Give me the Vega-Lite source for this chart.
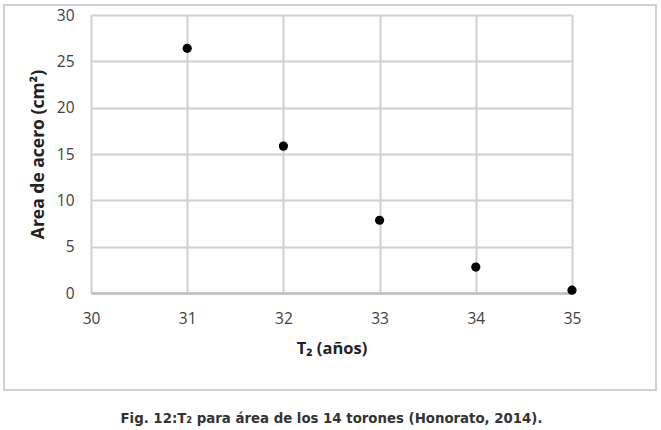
{
  "$schema": "https://vega.github.io/schema/vega-lite/v6.json",
  "width": 481,
  "height": 278,
  "autosize": {"type": "none"},
  "padding": {"left": 91, "top": 15, "right": 89, "bottom": 137},
  "background": "white",
  "config": {"view": {"stroke": null}, "font": "Open Sans"},
  "title": {
    "text": "Fig. 12:T₂ para área de los 14 torones (Honorato, 2014).",
    "orient": "bottom",
    "anchor": "middle",
    "font": "DejaVu Sans Condensed",
    "fontSize": 14.8,
    "fontWeight": "bold",
    "color": "#333333",
    "offset": 20
  },
  "layer": [
    {
      "data": {"values": [{}]},
      "mark": {"type": "rect", "fill": null, "stroke": "#d0d0d0", "strokeWidth": 2, "clip": false},
      "encoding": {
        "x": {"datum": 29.096, "type": "quantitative"},
        "x2": {"datum": 35.873},
        "y": {"datum": 31.08, "type": "quantitative"},
        "y2": {"datum": -10.47}
      }
    },
    {
      "data": {
        "values": [
          {"T2": 31, "area": 26.4},
          {"T2": 32, "area": 15.85},
          {"T2": 33, "area": 7.85},
          {"T2": 34, "area": 2.8},
          {"T2": 35, "area": 0.3}
        ]
      },
      "mark": {"type": "circle", "size": 85, "color": "black", "opacity": 1},
      "encoding": {
        "x": {
          "field": "T2",
          "type": "quantitative",
          "scale": {"domain": [30, 35], "nice": false, "zero": false},
          "axis": {
            "values": [30, 31, 32, 33, 34, 35],
            "format": "d",
            "grid": true,
            "gridColor": "#d0d0d0",
            "gridWidth": 2,
            "domain": true,
            "domainColor": "#bfbfbf",
            "domainWidth": 2.5,
            "ticks": false,
            "labelBound": false,
            "labelFlush": false,
            "labelOverlap": false,
            "labelPadding": 18,
            "labelFontSize": 15.5,
            "labelColor": "#404040",
            "title": "T₂ (años)",
            "titleFontSize": 16.5,
            "titleFontWeight": "bold",
            "titleColor": "#222222",
            "titlePadding": 14
          }
        },
        "y": {
          "field": "area",
          "type": "quantitative",
          "scale": {"domain": [0, 30], "nice": false},
          "axis": {
            "values": [0, 5, 10, 15, 20, 25, 30],
            "grid": true,
            "gridColor": "#d0d0d0",
            "gridWidth": 2,
            "domain": false,
            "ticks": false,
            "labelBound": false,
            "labelFlush": false,
            "labelOverlap": false,
            "labelPadding": 17,
            "labelFontSize": 15.5,
            "labelColor": "#404040",
            "title": "Area de acero (cm²)",
            "titleFontSize": 17.5,
            "titleFontWeight": "bold",
            "titleColor": "#222222",
            "titlePadding": 9
          }
        }
      }
    }
  ]
}
